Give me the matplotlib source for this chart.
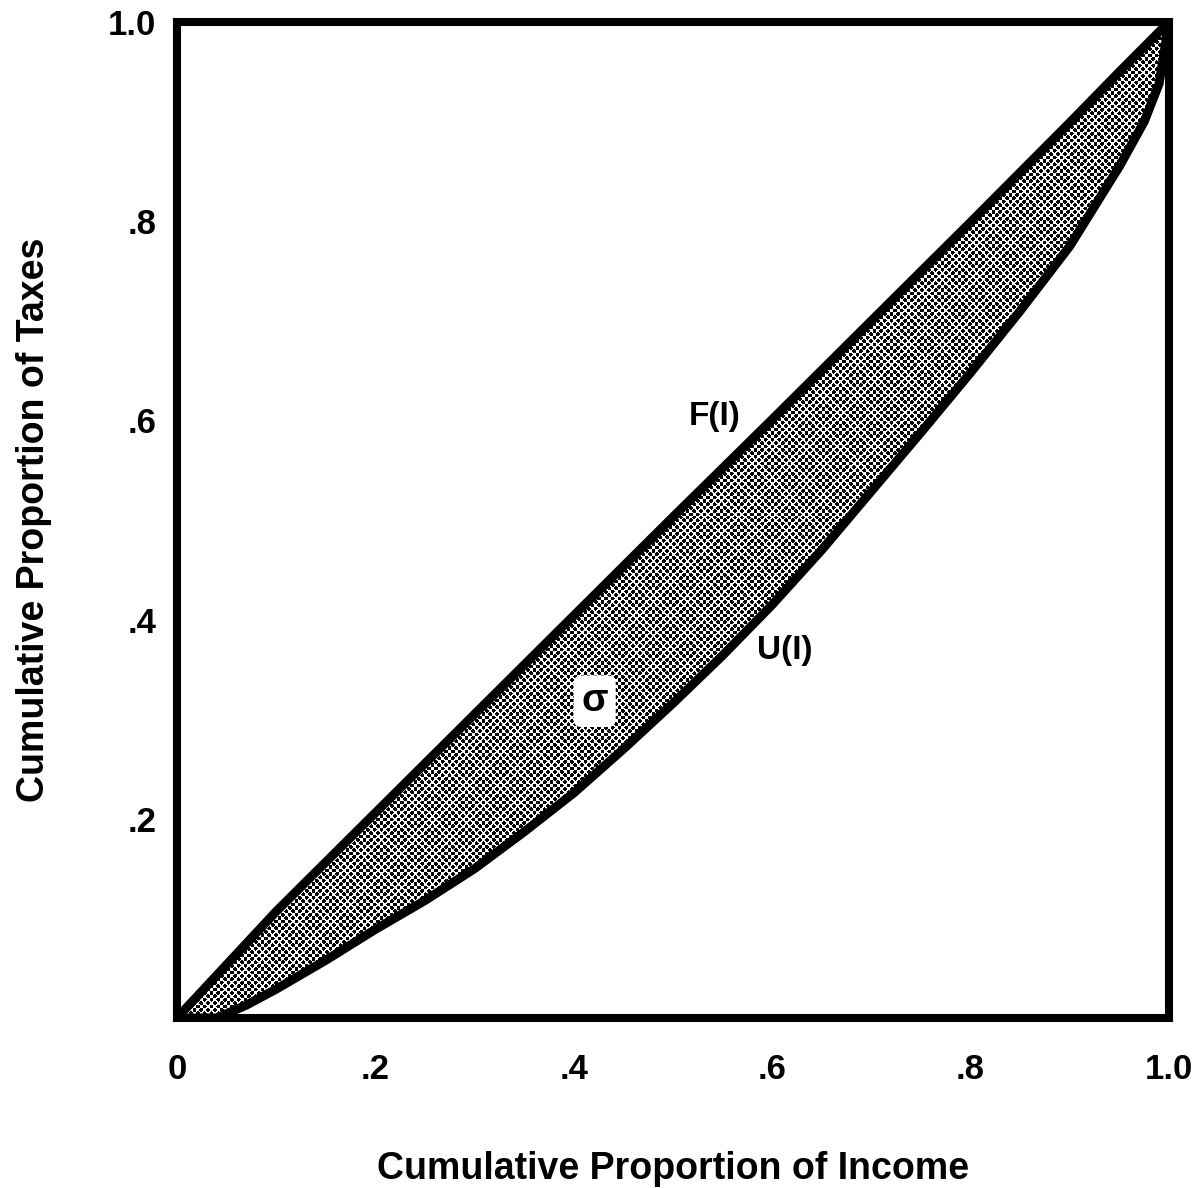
import numpy as np
import matplotlib
matplotlib.use("Agg")
import matplotlib.pyplot as plt
from matplotlib.patches import Polygon

plt.rcParams['font.family'] = ['Liberation Sans', 'DejaVu Sans']

# F(I): upper curve, U(I): lower curve
income_f = [0, .1, .2, .3, .4, .5, .6, .7, .8, .9, .95, 1.0]
taxes_f = [0, .107, .206, .305, .404, .503, .601, .700, .799, .899, .950, 1.0]

income_u = [0, .04, .07, .1, .15, .2, .25, .3, .35, .4, .45, .5, .55, .6, .65, .7,
            .75, .8, .85, .9, .95, .975, .99, 1.0]
taxes_u = [0, 0, .013, .029, .058, .089, .118, .150, .187, .226, .270, .316, .364,
           .415, .470, .529, .588, .648, .710, .775, .855, .900, .938, 1.0]

x_ticks = [0, .2, .4, .6, .8, 1.0]
x_ticklabels = ["0", ".2", ".4", ".6", ".8", "1.0"]
y_ticks = [.2, .4, .6, .8, 1.0]
y_ticklabels = [".2", ".4", ".6", ".8", "1.0"]

fig = plt.figure(figsize=(11.92, 11.88), dpi=100)
ax = fig.add_axes([0.1485, 0.1431, 0.8322, 0.8384])
ax.set_xlim(0, 1)
ax.set_ylim(0, 1)

# shaded band between the two curves
verts = list(zip(income_f, taxes_f)) + list(zip(income_u[::-1], taxes_u[::-1]))
band = Polygon(verts, closed=True, facecolor="white", edgecolor="none", zorder=1)
ax.add_patch(band)

# halftone dot screen, one image pixel per screen pixel, clipped to the band
w_px, h_px = 992, 998
yy, xx = np.mgrid[0:h_px, 0:w_px].astype(float)
a = 6.8
u = (xx + yy) / a
v = (xx - yy) / a
du = u - np.round(u)
dv = v - np.round(v)
dist = np.sqrt(du ** 2 + dv ** 2) * a / np.sqrt(2)
screen = np.where(dist < 1.9, 0.0, 1.0)
img = ax.imshow(screen, extent=(0, 1, 0, 1), cmap="gray", vmin=0, vmax=1,
                interpolation="nearest", aspect="auto", zorder=2)
img.set_clip_path(band)

for xs, ys in [(income_f, taxes_f), (income_u, taxes_u)]:
    ax.plot(xs, ys, color="black", lw=6.5, solid_capstyle="round",
            solid_joinstyle="round", zorder=3)

ax.text(0.542, 0.604, "F(I)", fontsize=24, fontweight="bold", ha="center", va="center")
ax.text(0.613, 0.369, "U(I)", fontsize=24, fontweight="bold", ha="center", va="center")
ax.text(0.421, 0.318, "σ", fontsize=28, fontweight="bold", ha="center", va="center",
        zorder=4, bbox=dict(boxstyle="round,pad=0.2", facecolor="white", edgecolor="none"))

for s in ax.spines.values():
    s.set_linewidth(5.8)
    s.set_zorder(5)

ax.set_xticks(x_ticks)
ax.set_xticklabels(x_ticklabels)
ax.set_yticks(y_ticks)
ax.set_yticklabels(y_ticklabels)
ax.tick_params(length=0, labelsize=25)
ax.tick_params(axis="x", pad=25)
ax.tick_params(axis="y", pad=15)
for lab in ax.get_xticklabels() + ax.get_yticklabels():
    lab.set_fontweight("bold")

ax.set_xlabel("Cumulative Proportion of Income", fontsize=27, fontweight="bold", labelpad=47)
ax.set_ylabel("Cumulative Proportion of Taxes", fontsize=27, fontweight="bold", labelpad=40)

fig.savefig("out.png", dpi=100)
